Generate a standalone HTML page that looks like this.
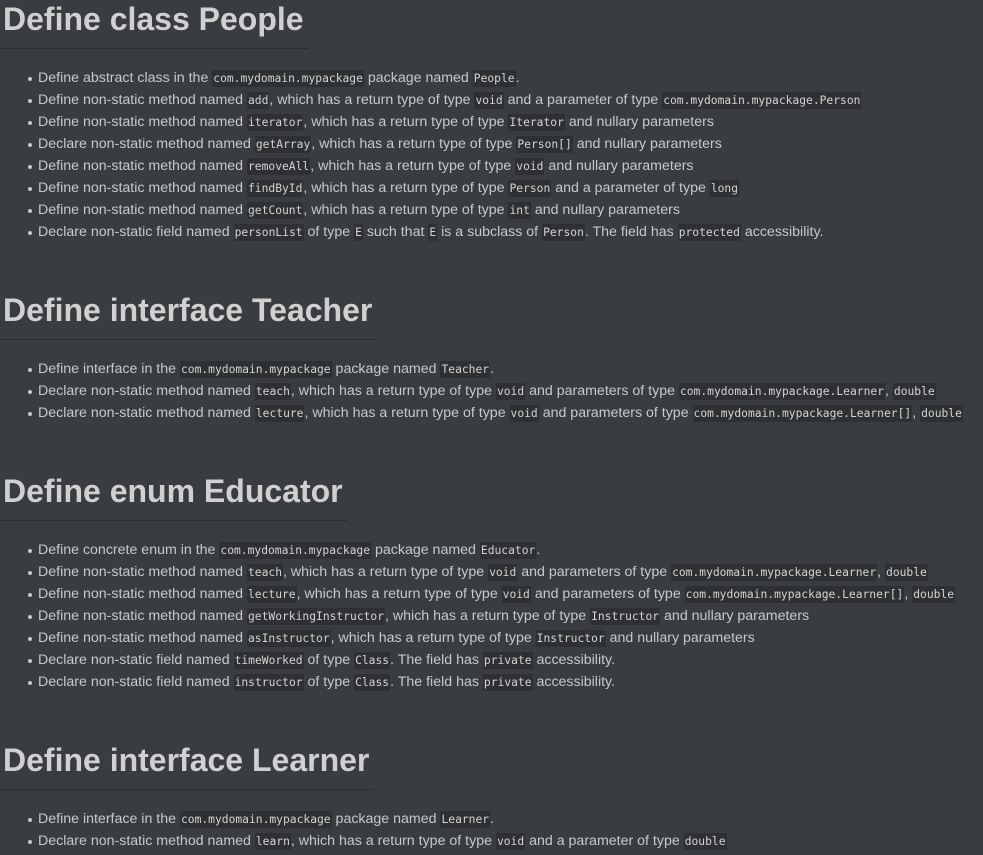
<!DOCTYPE html>
<html><head><meta charset="utf-8">
<style>
html,body{margin:0;padding:0;background:#393c40;width:983px;height:855px;overflow:hidden}
body{font-family:"Liberation Sans",Helvetica,Arial,sans-serif;color:#c8c9ca}
.sec h1{margin:0;font-size:32px;line-height:38px;font-weight:bold;color:#d0d0d0;display:inline-block;padding:0 4px 10px 3px;border-bottom:1px solid #2a2c2f}
.sec{margin-bottom:48px}
ul{margin:18px 0 0 0;padding:0 0 0 38px;list-style:none}
li{font-size:14.2px;line-height:22px;height:22px;position:relative;white-space:nowrap}
li:before{content:"";position:absolute;left:-10px;top:10px;width:4px;height:4px;border-radius:50%;background:#c8c9ca}
code{font-family:"DejaVu Sans Mono","Liberation Mono",monospace;font-size:11.3px;background:#2e3033;padding:2px 1px;color:#d4d4d4}
</style></head><body>
<div class="sec">
<h1>Define class People</h1>
<ul>
<li>Define abstract class in the <code>com.mydomain.mypackage</code> package named <code>People</code>.</li>
<li>Define non-static method named <code>add</code>, which has a return type of type <code>void</code> and a parameter of type <code>com.mydomain.mypackage.Person</code></li>
<li>Define non-static method named <code>iterator</code>, which has a return type of type <code>Iterator</code> and nullary parameters</li>
<li>Declare non-static method named <code>getArray</code>, which has a return type of type <code>Person[]</code> and nullary parameters</li>
<li>Define non-static method named <code>removeAll</code>, which has a return type of type <code>void</code> and nullary parameters</li>
<li>Define non-static method named <code>findById</code>, which has a return type of type <code>Person</code> and a parameter of type <code>long</code></li>
<li>Define non-static method named <code>getCount</code>, which has a return type of type <code>int</code> and nullary parameters</li>
<li>Declare non-static field named <code>personList</code> of type <code>E</code> such that <code>E</code> is a subclass of <code>Person</code>. The field has <code>protected</code> accessibility.</li>
</ul></div>
<div class="sec">
<h1>Define interface Teacher</h1>
<ul>
<li>Define interface in the <code>com.mydomain.mypackage</code> package named <code>Teacher</code>.</li>
<li>Declare non-static method named <code>teach</code>, which has a return type of type <code>void</code> and parameters of type <code>com.mydomain.mypackage.Learner</code>, <code>double</code></li>
<li>Declare non-static method named <code>lecture</code>, which has a return type of type <code>void</code> and parameters of type <code>com.mydomain.mypackage.Learner[]</code>, <code>double</code></li>
</ul></div>
<div class="sec">
<h1>Define enum Educator</h1>
<ul>
<li>Define concrete enum in the <code>com.mydomain.mypackage</code> package named <code>Educator</code>.</li>
<li>Define non-static method named <code>teach</code>, which has a return type of type <code>void</code> and parameters of type <code>com.mydomain.mypackage.Learner</code>, <code>double</code></li>
<li>Define non-static method named <code>lecture</code>, which has a return type of type <code>void</code> and parameters of type <code>com.mydomain.mypackage.Learner[]</code>, <code>double</code></li>
<li>Define non-static method named <code>getWorkingInstructor</code>, which has a return type of type <code>Instructor</code> and nullary parameters</li>
<li>Define non-static method named <code>asInstructor</code>, which has a return type of type <code>Instructor</code> and nullary parameters</li>
<li>Declare non-static field named <code>timeWorked</code> of type <code>Class</code>. The field has <code>private</code> accessibility.</li>
<li>Declare non-static field named <code>instructor</code> of type <code>Class</code>. The field has <code>private</code> accessibility.</li>
</ul></div>
<div class="sec">
<h1>Define interface Learner</h1>
<ul>
<li>Define interface in the <code>com.mydomain.mypackage</code> package named <code>Learner</code>.</li>
<li>Declare non-static method named <code>learn</code>, which has a return type of type <code>void</code> and a parameter of type <code>double</code></li>
</ul></div>
</body></html>
